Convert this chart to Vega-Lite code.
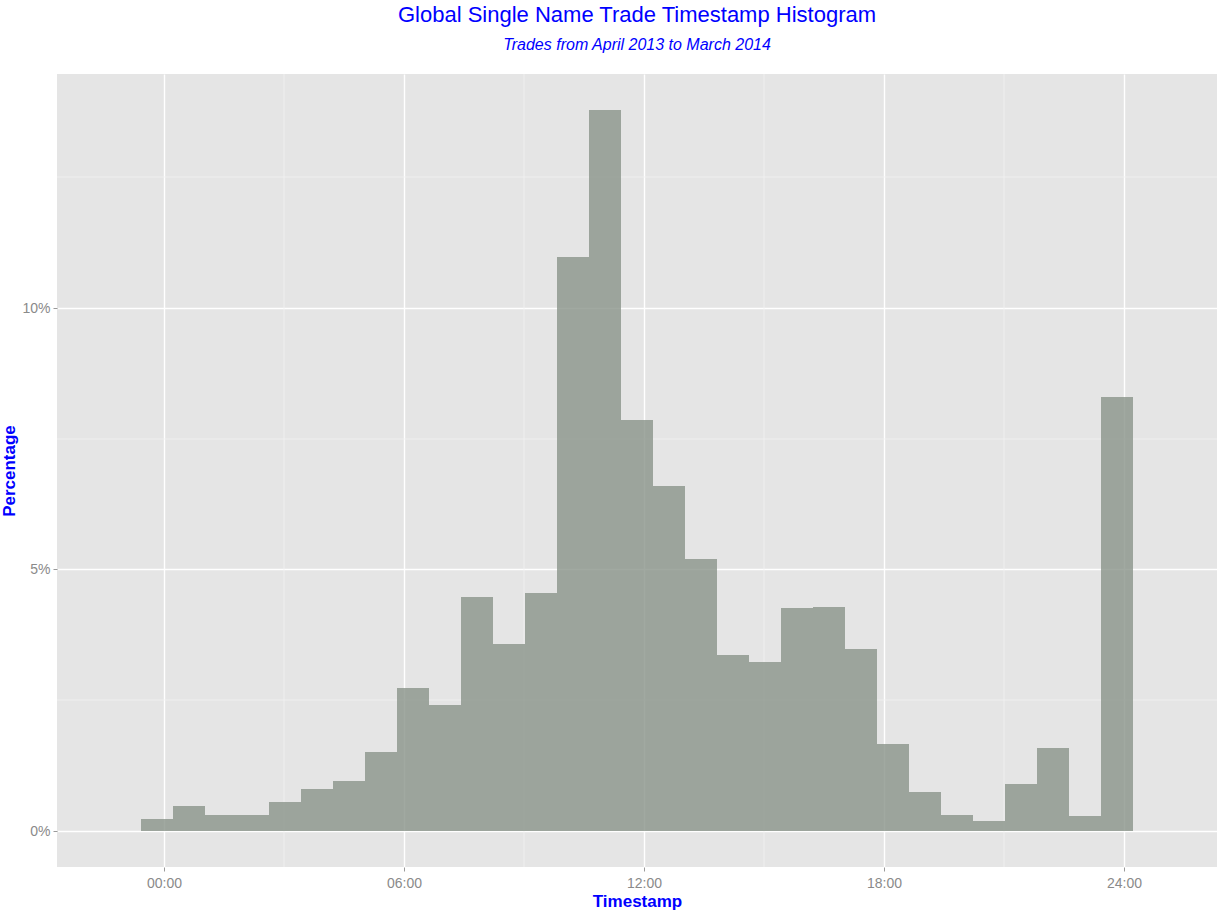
{
  "$schema": "https://vega.github.io/schema/vega-lite/v6.json",
  "autosize": {"type": "none"},
  "padding": {"left": 57, "top": 74, "right": 0, "bottom": 47},
  "width": 1160,
  "height": 793,
  "background": "white",
  "config": {
    "view": {"fill": "#e5e5e5", "stroke": null},
    "font": "Liberation Sans",
    "axis": {
      "domain": false,
      "grid": true,
      "gridColor": "#ffffff",
      "gridWidth": 1.4,
      "tickColor": "#9a9a9a",
      "tickSize": 4,
      "tickWidth": 1,
      "labelColor": "#8a8a8a",
      "labelFont": "Liberation Sans",
      "labelFontSize": 14,
      "titleColor": "#0000ff",
      "titleFont": "Liberation Sans",
      "titleFontSize": 17,
      "titleFontWeight": "bold"
    }
  },
  "title": {
    "text": "Global Single Name Trade Timestamp Histogram",
    "subtitle": "Trades from April 2013 to March 2014",
    "anchor": "middle",
    "font": "Liberation Sans",
    "fontSize": 22,
    "fontWeight": "normal",
    "color": "#0000ff",
    "subtitleFont": "Liberation Sans",
    "subtitleFontSize": 16,
    "subtitleFontStyle": "italic",
    "subtitleColor": "#0000ff",
    "subtitlePadding": 10,
    "offset": 20
  },
  "datasets": {
    "bins": [
      {"start": -0.567, "end": 0.233, "pct": 0.23},
      {"start": 0.233, "end": 1.033, "pct": 0.47},
      {"start": 1.033, "end": 1.833, "pct": 0.31},
      {"start": 1.833, "end": 2.633, "pct": 0.31},
      {"start": 2.633, "end": 3.433, "pct": 0.56},
      {"start": 3.433, "end": 4.233, "pct": 0.80},
      {"start": 4.233, "end": 5.033, "pct": 0.96},
      {"start": 5.033, "end": 5.833, "pct": 1.51},
      {"start": 5.833, "end": 6.633, "pct": 2.73},
      {"start": 6.633, "end": 7.433, "pct": 2.41},
      {"start": 7.433, "end": 8.233, "pct": 4.47},
      {"start": 8.233, "end": 9.033, "pct": 3.58},
      {"start": 9.033, "end": 9.833, "pct": 4.55},
      {"start": 9.833, "end": 10.633, "pct": 10.98},
      {"start": 10.633, "end": 11.433, "pct": 13.79},
      {"start": 11.433, "end": 12.233, "pct": 7.86},
      {"start": 12.233, "end": 13.033, "pct": 6.60},
      {"start": 13.033, "end": 13.833, "pct": 5.20},
      {"start": 13.833, "end": 14.633, "pct": 3.37},
      {"start": 14.633, "end": 15.433, "pct": 3.23},
      {"start": 15.433, "end": 16.233, "pct": 4.26},
      {"start": 16.233, "end": 17.033, "pct": 4.28},
      {"start": 17.033, "end": 17.833, "pct": 3.48},
      {"start": 17.833, "end": 18.633, "pct": 1.66},
      {"start": 18.633, "end": 19.433, "pct": 0.75},
      {"start": 19.433, "end": 20.233, "pct": 0.31},
      {"start": 20.233, "end": 21.033, "pct": 0.19},
      {"start": 21.033, "end": 21.833, "pct": 0.89},
      {"start": 21.833, "end": 22.633, "pct": 1.59},
      {"start": 22.633, "end": 23.433, "pct": 0.29},
      {"start": 23.433, "end": 24.233, "pct": 8.30}
    ],
    "minorx": [{"h": 3}, {"h": 9}, {"h": 15}, {"h": 21}],
    "minory": [{"p": 2.5}, {"p": 7.5}, {"p": 12.5}]
  },
  "layer": [
    {
      "data": {"name": "minorx"},
      "mark": {"type": "rule", "color": "#f2f2f2", "strokeWidth": 0.8},
      "encoding": {
        "x": {"field": "h", "type": "quantitative"}
      }
    },
    {
      "data": {"name": "minory"},
      "mark": {"type": "rule", "color": "#f2f2f2", "strokeWidth": 0.8},
      "encoding": {
        "y": {"field": "p", "type": "quantitative"}
      }
    },
    {
      "data": {"name": "bins"},
      "mark": {"type": "bar", "color": "#8a9389", "opacity": 0.8, "stroke": null},
      "encoding": {
        "x": {
          "field": "start",
          "type": "quantitative",
          "scale": {"domain": [-2.675, 26.325], "nice": false, "zero": false, "round": true},
          "axis": {
            "title": "Timestamp",
            "values": [0, 6, 12, 18, 24],
            "labelExpr": "(datum.value < 10 ? '0' : '') + datum.value + ':00'",
            "labelPadding": 5,
            "titlePadding": 3
          }
        },
        "x2": {"field": "end"},
        "y": {
          "field": "pct",
          "type": "quantitative",
          "scale": {"domain": [-0.69, 14.47], "nice": false, "zero": false, "round": true},
          "axis": {
            "title": "Percentage",
            "values": [0, 5, 10],
            "labelExpr": "datum.value + '%'",
            "labelPadding": 3,
            "titlePadding": 3
          }
        },
        "y2": {"datum": 0}
      }
    }
  ]
}
